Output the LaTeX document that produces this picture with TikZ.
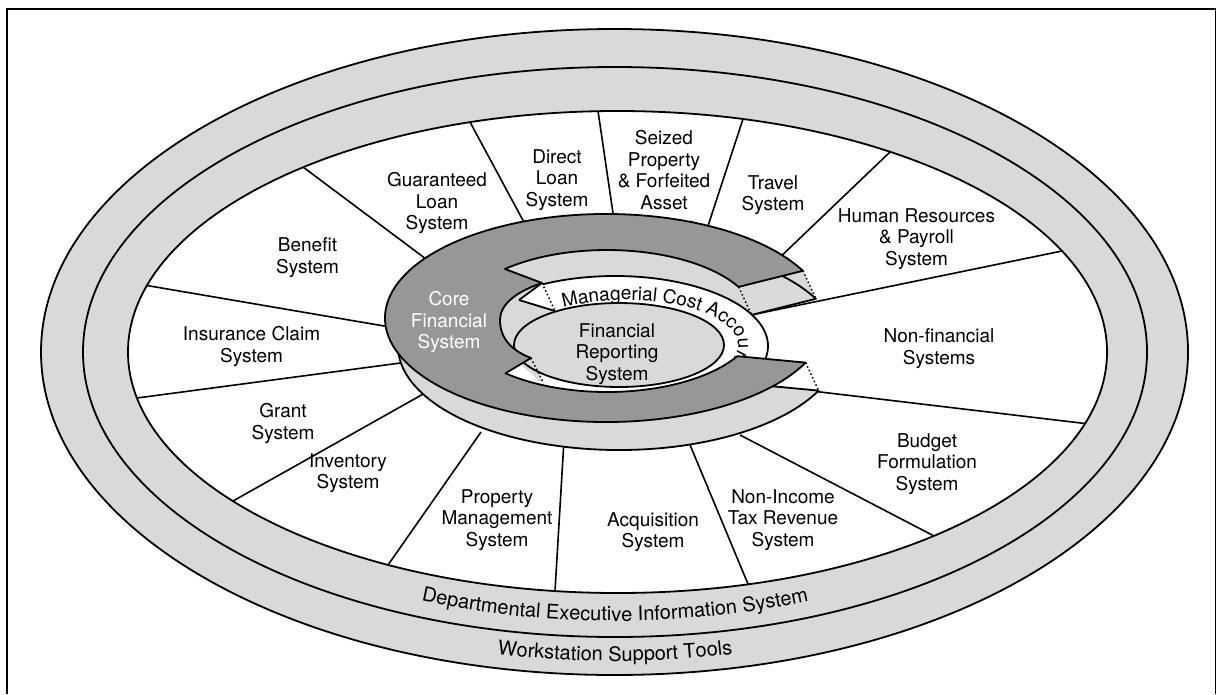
\documentclass[tikz,border=0pt]{standalone}
\usepackage{fontspec}
\setmainfont{TeX Gyre Heros}
\usetikzlibrary{calc,decorations.text}
\definecolor{lgray}{HTML}{D9D9D9}
\definecolor{dgray}{HTML}{979797}
\begin{document}
\begin{tikzpicture}[x=1pt,y=-1pt,
  lbl/.style={font=\fontsize{19}{21.6}\selectfont, align=center, inner sep=0pt, anchor=north},
  edge/.style={line width=1.8pt, line join=round},
  spoke/.style={line width=1.6pt},
  dotl/.style={line width=1.5pt, dash pattern=on 1.5pt off 2.5pt},
]
\useasboundingbox (0,0) rectangle (1217,694);
% frame
\draw[line width=1.6pt] (7,694) -- (7,9) -- (1215.5,9) -- (1215.5,694);
% rings
\coordinate (EO) at (614.5,352);
\coordinate (EM) at (615,352);
\coordinate (EI) at (617.5,352);
\filldraw[edge, fill=lgray] (EO) ellipse[x radius=573.5, y radius=323];
\draw[edge] (EM) ellipse[x radius=532, y radius=285];
\filldraw[edge, fill=white] (EI) ellipse[x radius=489.5, y radius=241];
\path[decorate, decoration={text along path, text align=center,
   text={|\fontsize{20}{22}\selectfont|Departmental Executive Information System}}]
  ($(EM)+(118:511 and 269)$) arc[start angle=118, end angle=62, x radius=511, y radius=269];
\path[decorate, decoration={text along path, text align=center,
   text={|\fontsize{20}{22}\selectfont|Workstation Support Tools}}]
  ($(EM)+(108:553 and 309)$) arc[start angle=108, end angle=72, x radius=553, y radius=309];
% spokes
\coordinate (so1) at (147,285.5);  \coordinate (si1) at (390,327);
\coordinate (so2) at (137,398);    \coordinate (si2) at (408,362);
\coordinate (so3) at (233,501);    \coordinate (si3) at (425,393);
\coordinate (so4) at (388,565);    \coordinate (si4) at (481,432);
\coordinate (so5) at (555,591);    \coordinate (si5) at (564,440);
\coordinate (so6) at (748,584);    \coordinate (si6) at (688,440);
\coordinate (so7) at (934,536);    \coordinate (si7) at (740,435);
\coordinate (so8) at (1085,423.5); \coordinate (si8) at (770,386);
\coordinate (so9) at (1062,251);   \coordinate (si9) at (751,315);
\coordinate (so10) at (890,152);   \coordinate (si10) at (775,262);
\coordinate (so11) at (743,119);   \coordinate (si11) at (706,232);
\coordinate (so12) at (598,111);   \coordinate (si12) at (614,220);
\coordinate (so13) at (470,122);   \coordinate (si13) at (526,226);
\coordinate (so14) at (303,167);   \coordinate (si14) at (430,262);
\draw[spoke] (so1) -- (si1);  \draw[spoke] (so2) -- (si2);
\draw[spoke] (so3) -- (si3);  \draw[spoke] (so4) -- (si4);
\draw[spoke] (so5) -- (si5);  \draw[spoke] (so6) -- (si6);
\draw[spoke] (so7) -- (si7);  \draw[spoke] (so8) -- (si8);
\draw[spoke] (so9) -- (si9);  \draw[spoke] (so10) -- (si10);
\draw[spoke] (so11) -- (si11); \draw[spoke] (so12) -- (si12);
\draw[spoke] (so13) -- (si13); \draw[spoke] (so14) -- (si14);
% sector labels
\node[lbl] (benefit) at (307.5,237.3) {Benefit\\System};
\node[lbl] (guar) at (437,172.3) {Guaranteed\\Loan\\System};
\node[lbl] (direct) at (557,149.3) {Direct\\Loan\\System};
\node[lbl] (seized) at (664,130.3) {Seized\\Property\\\& Forfeited\\Asset\\System};
\node[lbl] (travel) at (773,175.3) {Travel\\System};
\node[lbl] (hr) at (916.5,208.3) {Human Resources\\\& Payroll\\System};
\node[lbl] (nonfin) at (939,328.3) {Non-financial\\Systems};
\node[lbl] (budget) at (927,433.3) {Budget\\Formulation\\System};
\node[lbl] (nonincome) at (783,489.3) {Non-Income\\Tax Revenue\\System};
\node[lbl] (acq) at (653,512.3) {Acquisition\\System};
\node[lbl] (prop) at (497,489.3) {Property\\Management\\System};
\node[lbl] (inv) at (348,453.3) {Inventory\\System};
\node[lbl] (grant) at (283,403.3) {Grant\\System};
\node[lbl] (ins) at (251.5,326.3) {Insurance Claim\\System};
% core geometry
\coordinate (OC) at (606,318);
\coordinate (BC) at (619,346);
\coordinate (HC) at (607,321);
\coordinate (P2) at ($(OC)+(-27:221 and 104)$);
\coordinate (P4) at ($(OC)+(25.4:221 and 104)$);
\coordinate (P1) at ($(HC)+(331.3:150 and 71)$);
\coordinate (P3) at ($(HC)+(29.7:150 and 71)$);
\coordinate (An) at ($(HC)+(227.1:150 and 71)$);
\coordinate (Dn) at ($(HC)+(132.6:150 and 71)$);
\coordinate (Bn) at (542,283);
\coordinate (Cn) at (531,358);
\coordinate (Un) at (519,300);
\coordinate (En) at (555,311);
\coordinate (Ct) at (543,382);
% cut face of upper arm
\fill[lgray] (P1) -- (P2) -- ($(P2)+(13,28)$) -- ($(P1)+(13,28)$) -- cycle;
% base (thickness)
\filldraw[edge, fill=lgray] ($(BC)+(-27:221 and 104)$)
  arc[start angle=-27, end angle=-334.6, x radius=221, y radius=104]
  -- ($(P3)+(13,28)$) -- ($(P1)+(13,28)$) -- cycle;
\draw[dotl] (P1) -- ++(13,28);
\draw[dotl] (P2) -- ++(13,28);
\draw[dotl] (P4) -- ++(13,28);
% managerial ring
\filldraw[edge, fill=white] (615,346) ellipse[x radius=153, y radius=70];
\fill[lgray] (Bn) .. controls (515,292) and (500,305) .. (500,320)
  .. controls (500,337) and (510,350) .. (Cn) -- (Ct)
  .. controls (523,378) and (513,365) .. (513,348)
  .. controls (513,333) and (528,320) .. (En) -- cycle;
\fill[white] (Un) -- (Bn) -- (En) -- cycle;
\draw[edge] (Un) -- (Bn);
\draw[edge] (Un) -- (En);
\draw[dotl] (Bn) -- (En);
\filldraw[edge, fill=lgray] (619,345) ellipse[x radius=105, y radius=42];
\fill[white] (Dn) -- (520,364) -- (538,380) -- cycle;
\draw[dotl] (Cn) -- (Ct);
\path[decorate, decoration={text along path, text align=left,
   text={|\fontsize{19}{21}\selectfont|Managerial Cost Accounting}}]
  ($(626,345)+(236:112 and 45)$) arc[start angle=236, end angle=372, x radius=112, y radius=45];
\node[lbl] (frs) at (617,323.3) {Financial\\Reporting\\System};
% core financial system (top)
\filldraw[edge, fill=dgray] (P2)
  arc[start angle=-27, end angle=-334.6, x radius=221, y radius=104]
  -- (P3) arc[start angle=29.7, end angle=132.6, x radius=150, y radius=71]
  -- (Cn) .. controls (510,350) and (500,337) .. (500,320)
  .. controls (500,305) and (515,292) .. (Bn)
  -- (An) arc[start angle=227.1, end angle=331.3, x radius=150, y radius=71]
  -- cycle;
\node[lbl, text=white] (cfs) at (449,291.3) {Core\\Financial\\System};
\end{tikzpicture}
\end{document}
